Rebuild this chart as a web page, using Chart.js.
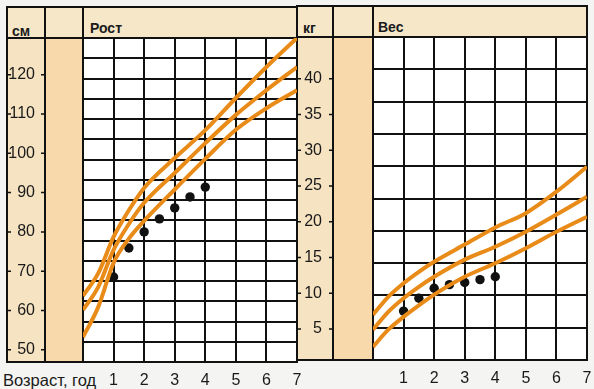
<!DOCTYPE html>
<html>
<head>
<meta charset="utf-8">
<script src="https://cdn.jsdelivr.net/npm/chart.js@4/dist/chart.umd.min.js"></script>
<style>
  html, body { margin: 0; padding: 0; }
  body { width: 594px; height: 389px; position: relative; overflow: hidden; background: #f4f4f2;
         font-family: "Liberation Sans", Arial, sans-serif; color: #1a1a1a; }
  .a { position: absolute; }
  .hdr { background: #f6e7c8; }
  .c1 { background: #f5e3c2; }
  .c2 { background: #f7d9ab; }
  .pl { background: #ffffff; }
  .ln { background: #111; }
  .box { border: 2px solid #111; box-sizing: border-box; }
  .t { font-weight: bold; font-size: 14px; line-height: 14px; }
  canvas { position: absolute; top: 0; }
</style>
</head>
<body>
<!-- left panel -->
<div class="a hdr" style="left:7px;top:7px;width:290px;height:31px"></div>
<div class="a c1"  style="left:7px;top:38px;width:38px;height:324px"></div>
<div class="a c2"  style="left:45px;top:38px;width:38px;height:324px"></div>
<div class="a pl"  style="left:83px;top:38px;width:214px;height:324px"></div>
<div class="a box" style="left:6px;top:6px;width:292px;height:357px"></div>
<div class="a ln"  style="left:44px;top:6px;width:2px;height:357px"></div>
<div class="a ln"  style="left:82px;top:6px;width:2px;height:357px"></div>
<div class="a ln"  style="left:6px;top:37px;width:292px;height:2px"></div>
<div class="a t" style="left:12px;top:24px">см</div>
<div class="a t" style="left:90px;top:21px">Рост</div>
<!-- right panel -->
<div class="a hdr" style="left:297px;top:6px;width:290px;height:31px"></div>
<div class="a c1"  style="left:297px;top:37px;width:36px;height:323px"></div>
<div class="a c2"  style="left:333px;top:37px;width:40px;height:323px"></div>
<div class="a pl"  style="left:373px;top:37px;width:214px;height:323px"></div>
<div class="a box" style="left:296px;top:5px;width:292px;height:356px"></div>
<div class="a ln"  style="left:332px;top:5px;width:2px;height:356px"></div>
<div class="a ln"  style="left:372px;top:5px;width:2px;height:356px"></div>
<div class="a ln"  style="left:296px;top:36px;width:292px;height:2px"></div>
<div class="a t" style="left:303px;top:21px">кг</div>
<div class="a t" style="left:378px;top:20px">Вес</div>
<div class="a" style="left:3px;top:371px;font-size:16.5px;line-height:18px">Возраст, год</div>

<canvas id="c1" width="310" height="389" style="left:0px;width:310px;height:389px"></canvas>
<canvas id="c2" width="304" height="389" style="left:290px;width:304px;height:389px"></canvas>

<script>
// ---- data ----
const AGES = [0, 0.5, 1, 1.5, 2, 3, 4, 5, 6, 7];
const HEIGHT_UPPER  = [63.7, 69.5, 78.7, 85.5, 91.2, 98.8, 105.9, 114.1, 122.0, 129.4];
const HEIGHT_MIDDLE = [60.1, 66.0, 75.4, 82.0, 87.4, 95.0, 102.6, 109.8, 116.1, 122.0];
const HEIGHT_LOWER  = [53.2, 60.9, 72.1, 78.3, 82.8, 90.8, 98.6, 106.0, 111.5, 116.1];
const WEIGHT_UPPER  = [7.0, 9.5, 11.4, 13.0, 14.4, 16.8, 19.2, 21.2, 24.2, 27.7];
const WEIGHT_MIDDLE = [4.9, 7.4, 9.3, 10.9, 12.3, 14.7, 16.5, 18.6, 21.0, 23.5];
const WEIGHT_LOWER  = [2.5, 4.9, 6.7, 8.3, 9.8, 12.3, 14.2, 16.3, 18.6, 20.7];
const CHILD_AGES    = [1, 1.5, 2, 2.5, 3, 3.5, 4];
const CHILD_HEIGHT  = [68.5, 75.9, 80.0, 83.3, 86.1, 88.9, 91.4];
const CHILD_WEIGHT  = [7.5, 9.3, 10.7, 11.2, 11.5, 11.9, 12.3];
const HEIGHT_TICKS  = [50, 60, 70, 80, 90, 100, 110, 120];
const WEIGHT_TICKS  = [5, 10, 15, 20, 25, 30, 35, 40];
const AGE_TICKS     = [1, 2, 3, 4, 5, 6, 7];

const ORANGE = '#e98b18';
const INK = '#111';
const FONT = { family: '"Liberation Sans", Arial, sans-serif', size: 16 };

const pts = (xs, ys) => xs.map((x, i) => ({ x, y: ys[i] }));

const sideTicks = {
  id: 'sideTicks',
  afterDraw(chart, args, opts) {
    const s = chart.scales.y, ctx = chart.ctx;
    ctx.save();
    ctx.strokeStyle = INK; ctx.lineWidth = 1.5;
    s.ticks.forEach(t => {
      const y = s.getPixelForValue(t.value);
      ctx.beginPath();
      ctx.moveTo(opts.l, y); ctx.lineTo(opts.l + 4, y);
      ctx.moveTo(opts.r - 4, y); ctx.lineTo(opts.r, y);
      ctx.stroke();
    });
    ctx.restore();
  }
};

function makeChart(id, cfg) {
  const curve = (ys) => ({
    type: 'line', data: pts(AGES, ys), borderColor: ORANGE, borderWidth: 4,
    pointRadius: 0, cubicInterpolationMode: 'monotone', fill: false
  });
  const noPad = s => { s.paddingTop = 0; s.paddingBottom = 0; s.paddingLeft = 0; s.paddingRight = 0; };
  return new Chart(document.getElementById(id), {
    type: 'line',
    data: {
      datasets: [
        curve(cfg.upper), curve(cfg.middle), curve(cfg.lower),
        { type: 'scatter', data: pts(CHILD_AGES, cfg.child), backgroundColor: INK,
          borderWidth: 0, pointRadius: 4.7 }
      ]
    },
    options: {
      responsive: false, animation: false,
      layout: { padding: { top: cfg.top, right: cfg.right, left: 0, bottom: 0 } },
      plugins: { legend: { display: false }, tooltip: { enabled: false },
                 sideTicks: { l: 7, r: cfg.colR } },
      scales: {
        x: {
          type: 'linear', min: 0, max: 7, position: 'bottom',
          afterBuildTicks: s => { s.ticks = [0].concat(AGE_TICKS).map(v => ({ value: v })); },
          ticks: { callback: v => v === 0 ? '' : String(v), font: FONT, color: '#1a1a1a',
                   padding: 9, autoSkip: false, maxRotation: 0 },
          grid: { color: INK, lineWidth: 2, drawTicks: false },
          border: { display: true, color: INK, width: 2 },
          afterFit: s => { s.height = 389 - cfg.bottom; noPad(s); }
        },
        y: {
          type: 'linear', min: cfg.ymin, max: cfg.ymax, position: 'left',
          afterBuildTicks: s => { s.ticks = cfg.ticks.map(v => ({ value: v })); },
          ticks: { font: FONT, color: '#1a1a1a', padding: cfg.pad },
          grid: { display: false, drawTicks: false },
          border: { display: true, color: INK, width: 2 },
          afterFit: s => { s.width = 83; noPad(s); }
        },
        yg: {
          type: 'linear', min: 0, max: cfg.rows, position: 'left',
          ticks: { display: false, stepSize: 1 },
          grid: { color: INK, lineWidth: 2, drawTicks: false },
          border: { display: false },
          afterFit: s => { s.width = 0; noPad(s); }
        }
      }
    },
    plugins: [sideTicks]
  });
}

makeChart('c1', {
  upper: HEIGHT_UPPER, middle: HEIGHT_MIDDLE, lower: HEIGHT_LOWER, child: CHILD_HEIGHT,
  ticks: HEIGHT_TICKS, ymin: 46.86, ymax: 129.38, rows: 16,
  top: 38, bottom: 362, right: 13, pad: 48, colR: 45
});
makeChart('c2', {
  upper: WEIGHT_UPPER, middle: WEIGHT_MIDDLE, lower: WEIGHT_LOWER, child: CHILD_WEIGHT,
  ticks: WEIGHT_TICKS, ymin: 0.66, ymax: 45.84, rows: 10,
  top: 37, bottom: 360, right: 7, pad: 51, colR: 43
});
</script>
</body>
</html>
